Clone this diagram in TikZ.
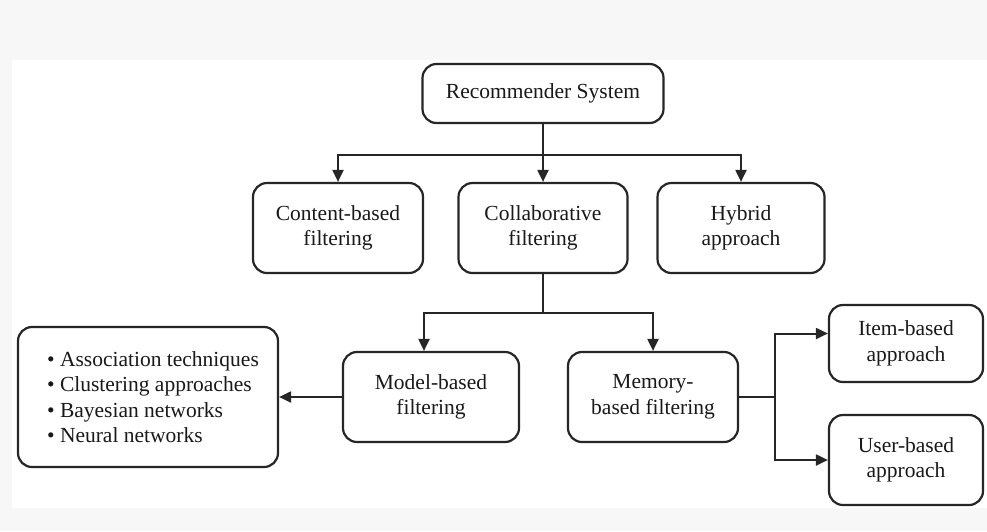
\documentclass[tikz,border=0pt]{standalone}
\usepackage{fontspec}
\setmainfont{Liberation Serif}
\usetikzlibrary{arrows.meta}

\tikzset{
  box/.style={draw=black!85, line width=2.2pt, rounded corners=14pt, align=center,
    inner sep=0pt, text=black!90, font=\fontsize{21.5}{25.5}\selectfont},
  wire/.style={draw=black!85, line width=2pt},
  arr/.style={wire, -{Triangle[length=12pt,width=11pt]}},
}
\newcommand{\itm}{\hspace*{10pt}\textbullet\ }

\begin{document}
\begin{tikzpicture}[x=1pt,y=-1pt]
	% sheet
	\fill[black!3] (0,0) rectangle (987,531);
	\fill[white] (12,60) rectangle (987,508);
	\useasboundingbox (0,0) rectangle (987,531);
	% top
	\node[box, minimum width=241pt, minimum height=59pt] (rs) at (543,93.5) {Recommender System};
	% first level
	\node[box, minimum width=170pt, minimum height=90pt] (cbf) at (338,228) {Content-based\\filtering};
	\node[box, minimum width=169pt, minimum height=90pt] (cf) at (543,228) {Collaborative\\filtering};
	\node[box, minimum width=167pt, minimum height=90pt] (hyb) at (741,228) {Hybrid\\approach};
	% second level
	\node[box, minimum width=176pt, minimum height=90pt] (mbf) at (431,397) {Model-based\\filtering};
	\node[box, minimum width=170pt, minimum height=90pt] (memf) at (653,397) {Memory-\\based filtering};
	\node[box, minimum width=260pt, minimum height=140pt, align=left] (tech) at (148,397)
		{\itm Association techniques\\ \itm Clustering approaches\\
		 \itm Bayesian networks\\ \itm Neural networks};
	\node[box, minimum width=154pt, minimum height=77pt] (item) at (906,343.5) {Item-based\\approach};
	\node[box, minimum width=154pt, minimum height=90pt] (user) at (906,460) {User-based\\approach};
	% junctions
	\coordinate (j1) at (543,155);
	\coordinate (j2) at (543,313);
	\coordinate (j3) at (775,397);
	% connectors
	\draw[wire] (rs.south) -- (j1);
	\foreach \t in {cbf,cf,hyb}{ %rs -> first level
		\draw[arr] (j1) -| (\t.north);
	}
	\draw[wire] (cf.south) -- (j2);
	\draw[arr] (j2) -| ([xshift=-7pt]mbf.north);
	\draw[arr] (j2) -| (memf.north);
	\draw[arr] (mbf.west) -- (tech.east);
	\draw[wire] (memf.east) -- (j3);
	\draw[arr] (j3) |- ([yshift=10pt]item.west);
	\draw[arr] (j3) |- (user.west);
\end{tikzpicture}
\end{document}
